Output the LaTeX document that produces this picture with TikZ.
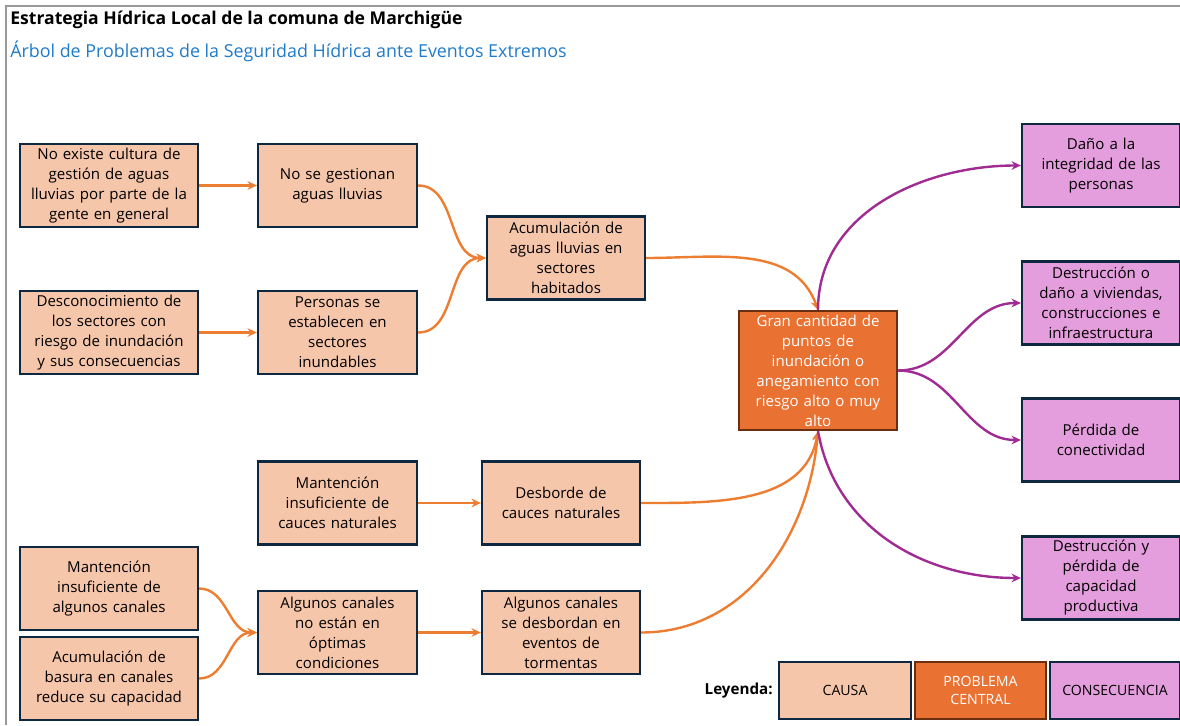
\documentclass[tikz,border=0pt]{standalone}
\usepackage{fontspec}
\setmainfont{Open Sans}
\usetikzlibrary{arrows.meta}
\definecolor{causafill}{HTML}{F6C6AB}
\definecolor{centralfill}{HTML}{E97132}
\definecolor{consfill}{HTML}{E59EDD}
\definecolor{bordeosc}{HTML}{0E2841}
\definecolor{bordecafe}{HTML}{6A2E10}
\definecolor{naranja}{HTML}{ED7D31}
\definecolor{morado}{HTML}{A02B93}
\definecolor{azultit}{HTML}{1F7BC9}
\tikzset{
  caja/.style={draw=bordeosc,line width=1.7pt,inner xsep=2pt,inner ysep=0pt,align=center,font=\fontsize{11.3}{15}\selectfont,minimum height=62.25pt},
  causa/.style={caja,fill=causafill,minimum width=#1*0.75pt,text width=#1*0.75pt-6pt},
  conseq/.style={caja,fill=consfill,minimum width=118.5pt,text width=114pt},
  central/.style={caja,fill=centralfill,draw=bordecafe,text=white,minimum width=118.5pt,text width=114pt,minimum height=89.25pt},
  leyenda/.style={draw=bordeosc,line width=1.7pt,inner sep=0pt,align=center,font=\fontsize{10.6}{14}\selectfont,minimum height=42.75pt,minimum width=#1*0.75pt},
  flecha/.style={-{Stealth[length=7pt,width=6.5pt]},naranja,line width=1.8pt},
  flechac/.style={-{Stealth[length=7pt,width=6.5pt]},morado,line width=1.8pt},
  marco/.style={draw=gray!80,line width=1.5pt},
}
\begin{document}
\begin{tikzpicture}[x=0.75pt,y=-0.75pt]
\useasboundingbox (0,0) rectangle (1180,725);
\draw[marco] (6,725) -- (6,6) -- (1180,6);
\node[anchor=base west,inner sep=0pt,font=\bfseries\fontsize{13.2}{16}\selectfont] (titulo) at (10,24) {Estrategia Hídrica Local de la comuna de Marchigüe};
\node[anchor=base west,inner sep=0pt,text=azultit,font=\fontsize{13.4}{16}\selectfont] (subtitulo) at (10,57) {Árbol de Problemas de la Seguridad Hídrica ante Eventos Extremos};

% causas
\node[causa=178] (c1) at (109,185.5) {No existe cultura de\\gestión de aguas\\lluvias por parte de la\\gente en general};
\node[causa=159] (c2) at (337.5,185.5) {No se gestionan\\aguas lluvias};
\node[causa=178] (c3) at (109,332.5) {Desconocimiento de\\los sectores con\\riesgo de inundación\\y sus consecuencias};
\node[causa=159] (c4) at (337.5,332.5) {Personas se\\establecen en\\sectores\\inundables};
\node[causa=158] (c5) at (566,258) {Acumulación de\\aguas lluvias en\\sectores\\habitados};
\node[causa=159] (c6) at (337.5,503) {Mantención\\insuficiente de\\cauces naturales};
\node[causa=158] (c7) at (561,503) {Desborde de\\cauces naturales};
\node[causa=178] (c8) at (109,588.5) {Mantención\\insuficiente de\\algunos canales};
\node[causa=178] (c9) at (109,678.5) {Acumulación de\\basura en canales\\reduce su capacidad};
\node[causa=159] (c10) at (337.5,632.5) {Algunos canales\\no están en\\óptimas\\condiciones};
\node[causa=158] (c11) at (561,632.5) {Algunos canales\\se desbordan en\\eventos de\\tormentas};

% problema central
\node[central] (pc) at (818,370.5) {Gran cantidad de\\puntos de\\inundación o\\anegamiento con\\riesgo alto o muy\\alto};

% consecuencias
\node[conseq] (k1) at (1101,165.5) {Daño a la\\integridad de las\\personas};
\node[conseq] (k2) at (1101,303) {Destrucción o\\daño a viviendas,\\construcciones e\\infraestructura};
\node[conseq] (k3) at (1101,440) {Pérdida de\\conectividad};
\node[conseq] (k4) at (1101,578) {Destrucción y\\pérdida de\\capacidad\\productiva};

\draw[flecha] (c1) -- (c2);
\draw[flecha] (c3) -- (c4);
\draw[flecha] (c6) -- (c7);
\draw[flecha] (c10) -- (c11);
\draw[flecha] (c2.east) to[out=0,in=180] (c5.west);
\draw[flecha] (c4.east) to[out=0,in=180] (c5.west);
\draw[flecha] (c8.east) to[out=0,in=180] (c10.west);
\draw[flecha] (c9.east) to[out=0,in=180] (c10.west);
\draw[flecha] (c5.east) to[out=0,in=110] (pc.north);
\draw[flecha] (c7.east) to[out=0,in=-100] (pc.south);
\draw[flecha] (c11.east) to[out=0,in=-95] (pc.south);

\draw[flechac] (pc.north) to[out=90,in=180] (k1.west);
\draw[flechac] (pc.east) to[out=0,in=180] (k2.west);
\draw[flechac] (pc.east) to[out=0,in=180] (k3.west);
\draw[flechac] (pc.south) to[out=-80,in=180] (k4.west);

% leyenda
\node[anchor=east,inner sep=0pt,font=\bfseries\fontsize{11.4}{14}\selectfont] (ley) at (773,690.5) {Leyenda:};
\node[leyenda=132,fill=causafill] (lcausa) at (845,690.5) {CAUSA};
\node[leyenda=131,fill=centralfill,draw=bordecafe,text=white] (lcentral) at (980.5,690.5) {PROBLEMA\\CENTRAL};
\node[leyenda=130,fill=consfill] (lcons) at (1115,690.5) {CONSECUENCIA};
\end{tikzpicture}
\end{document}
